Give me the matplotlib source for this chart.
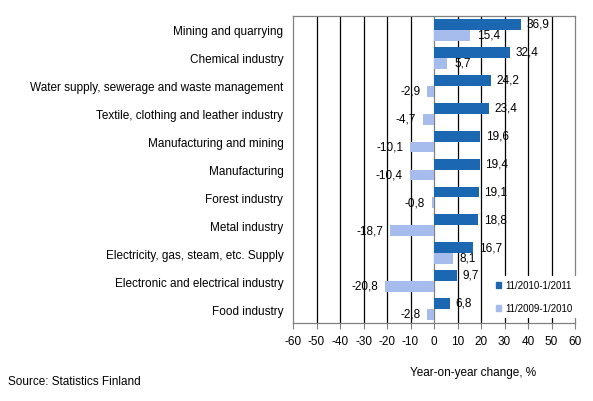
import matplotlib
matplotlib.use("Agg")
import matplotlib.pyplot as plt
from matplotlib.patches import Patch
import numpy as np

categories = ["Mining and quarrying", "Chemical industry",
              "Water supply, sewerage and waste management",
              "Textile, clothing and leather industry",
              "Manufacturing and mining", "Manufacturing", "Forest industry",
              "Metal industry", "Electricity, gas, steam, etc. Supply",
              "Electronic and electrical industry", "Food industry"]
series_2010 = [36.9, 32.4, 24.2, 23.4, 19.6, 19.4, 19.1, 18.8, 16.7, 9.7, 6.8]
series_2009 = [15.4, 5.7, -2.9, -4.7, -10.1, -10.4, -0.8, -18.7, 8.1, -20.8, -2.8]
label_2010 = "11/2010-1/2011"
label_2009 = "11/2009-1/2010"
xticks = list(range(-60, 61, 10))

dark = "#1C67B1"
light = "#A6BCEC"

plt.rcParams['font.family'] = ['Liberation Sans', 'DejaVu Sans']
plt.rcParams['font.size'] = 8.5

fig = plt.figure(figsize=(5.93, 4.02), dpi=100)
ax = fig.add_axes([293/593, 1-324/402, (575-293)/593, (324-17)/402])

n = len(categories)
y = np.arange(n)
h = 0.39
ax.barh(y - h/2, series_2010, height=h, color=dark, zorder=3, label=label_2010)
ax.barh(y + h/2, series_2009, height=h, color=light, zorder=3, label=label_2009)

def fmt(v):
    return f"{v:.1f}".replace(".", ",")

for yi, v in zip(y, series_2010):
    ax.annotate(fmt(v), (v, yi - h/2), xytext=(4 if v >= 0 else -4, 0.5),
                textcoords="offset points", va="center",
                ha="left" if v >= 0 else "right", zorder=6)
for yi, v in zip(y, series_2009):
    ax.annotate(fmt(v), (v, yi + h/2), xytext=(5 if v >= 0 else -5, 0.5),
                textcoords="offset points", va="center",
                ha="left" if v >= 0 else "right", zorder=6)

ax.set_xlim(-60, 60)
ax.set_ylim(n - 0.5, -0.5)
ax.set_xticks(xticks)
ax.set_xticklabels([str(t) for t in xticks])
ax.set_yticks(y)
ax.set_yticklabels(categories)
for t in xticks[1:-1]:
    ax.axvline(t, color="black" if t != 0 else "#808080", lw=0.9, zorder=1)

for s in ax.spines.values():
    s.set_color("#808080")
    s.set_linewidth(0.9)
ax.tick_params(axis="y", length=0, pad=7)
ax.tick_params(axis="x", length=4, direction="out", color="#808080", pad=5)

ax.set_xlabel("Year-on-year change, %", labelpad=13, x=0.64)
fig.text(8/593, 1-382/402, "Source: Statistics Finland", va="center")

handles = [Patch(color=dark), Patch(color=light)]
leg = ax.legend(handles, [label_2010, label_2009], loc="upper left",
                bbox_to_anchor=(492/593, 1-277/402), bbox_transform=fig.transFigure,
                frameon=True, fancybox=False,
                handlelength=0.45, handleheight=0.45, handletextpad=0.45,
                labelspacing=1.35, borderpad=0.45, borderaxespad=0, fontsize=7)
leg.get_frame().set_facecolor("white")
leg.get_frame().set_edgecolor("none")
leg.get_frame().set_alpha(1)
leg.set_zorder(5)

fig.savefig("out.png", dpi=100)
